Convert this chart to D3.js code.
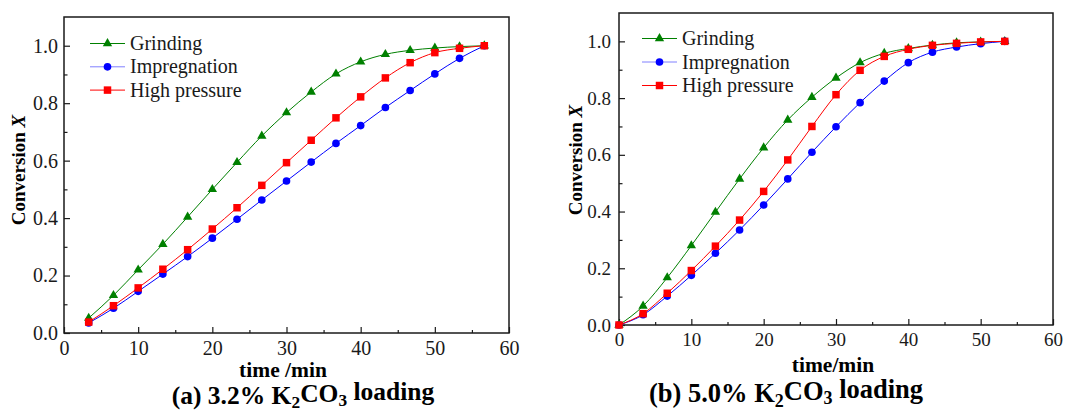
<!DOCTYPE html>
<html>
<head>
<meta charset="utf-8">
<script src="https://cdn.jsdelivr.net/npm/d3@7"></script>
<style>
  body { margin: 0; background: #fff; }
  svg { display: block; font-family: "Liberation Serif", "Times New Roman", serif; }
</style>
</head>
<body>
<svg id="chart" width="1067" height="412"></svg>
<script>
// series names + styles order
const seriesNames = ["Grinding", "Impregnation", "High pressure"];

// panel (a) 3.2% K2CO3
const timeA = [3.33, 6.67, 10, 13.33, 16.67, 20, 23.33, 26.67, 30, 33.33, 36.67, 40, 43.33, 46.67, 50, 53.33, 56.67];
const grindingA = [0.052, 0.131, 0.22, 0.309, 0.404, 0.5, 0.594, 0.686, 0.767, 0.839, 0.902, 0.944, 0.97, 0.984, 0.992, 0.997, 1.0];
const impregA = [0.035, 0.086, 0.145, 0.205, 0.266, 0.33, 0.396, 0.463, 0.529, 0.595, 0.66, 0.722, 0.785, 0.844, 0.902, 0.956, 1.0];
const highPA = [0.038, 0.095, 0.157, 0.222, 0.29, 0.362, 0.436, 0.514, 0.593, 0.671, 0.749, 0.822, 0.888, 0.941, 0.976, 0.991, 1.0];

// panel (b) 5.0% K2CO3
const timeB = [0, 3.33, 6.67, 10, 13.33, 16.67, 20, 23.33, 26.67, 30, 33.33, 36.67, 40, 43.33, 46.67, 50, 53.33];
const grindingB = [0, 0.067, 0.167, 0.28, 0.398, 0.515, 0.625, 0.723, 0.803, 0.871, 0.925, 0.958, 0.975, 0.987, 0.995, 0.998, 1.0];
const impregB = [0, 0.036, 0.102, 0.175, 0.253, 0.335, 0.423, 0.515, 0.609, 0.699, 0.784, 0.86, 0.925, 0.962, 0.98, 0.992, 1.0];
const highPB = [0, 0.04, 0.112, 0.192, 0.278, 0.37, 0.471, 0.582, 0.7, 0.812, 0.898, 0.947, 0.972, 0.986, 0.993, 0.998, 1.0];

const xTicks = [0, 10, 20, 30, 40, 50, 60];
const xMinor = [5, 15, 25, 35, 45, 55];
const yTicks = [0, 0.2, 0.4, 0.6, 0.8, 1.0];
const yMinor = [0.1, 0.3, 0.5, 0.7, 0.9];

const colors = ["#008000", "#0000ff", "#ff0000"];
const legendLineColors = ["#008000", "#8080ff", "#ff0000"];
const symbols = [d3.symbolTriangle, d3.symbolCircle, d3.symbolSquare];
const symbolSizes = [38, 46, 56];

const FONT = '"Liberation Serif", "Times New Roman", serif';
const svg = d3.select("#chart");

function drawPanel(cfg) {
    const x = d3.scaleLinear().domain([0, 60]).range([cfg.left, cfg.right]);
    const y = d3.scaleLinear().domain([0, 1.1]).range([cfg.bottom, cfg.top]);
    const g = svg.append("g");

    // frame
    g.append("rect")
        .attr("x", cfg.left).attr("y", cfg.top)
        .attr("width", cfg.right - cfg.left).attr("height", cfg.bottom - cfg.top)
        .attr("fill", "none").attr("stroke", "#1a1a1a").attr("stroke-width", 1.5);

    // inward ticks, major + minor
    const axes = [
        g.append("g").attr("transform", `translate(0,${cfg.bottom})`)
            .call(d3.axisBottom(x).tickValues(xTicks).tickSize(-6).tickPadding(8).tickFormat(d3.format("d"))),
        g.append("g").attr("transform", `translate(0,${cfg.bottom})`)
            .call(d3.axisBottom(x).tickValues(xMinor).tickSize(-3).tickFormat("")),
        g.append("g").attr("transform", `translate(${cfg.left},0)`)
            .call(d3.axisLeft(y).tickValues(yTicks).tickSize(-6).tickPadding(cfg.yPad).tickFormat(d3.format(".1f"))),
        g.append("g").attr("transform", `translate(${cfg.left},0)`)
            .call(d3.axisLeft(y).tickValues(yMinor).tickSize(-3.5).tickFormat(""))
    ];
    axes.forEach(a => a.attr("font-family", FONT).attr("font-size", cfg.tickFont));

    g.selectAll(".domain").remove();
    g.selectAll(".tick line").attr("stroke", "#1a1a1a").attr("stroke-width", 1.2);
    g.selectAll(".tick text").attr("fill", "#1a1a1a");

    // series
    const line = d3.line().x(d => x(d[0])).y(d => y(d[1])).curve(d3.curveMonotoneX);
    cfg.series.forEach((vals, i) => {
        const pts = cfg.time.map((t, j) => [t, vals[j]]);
        g.append("path").datum(pts)
            .attr("d", line).attr("fill", "none")
            .attr("stroke", colors[i]).attr("stroke-width", 1);
        g.selectAll(null).data(pts).enter().append("path")
            .attr("d", d3.symbol().type(symbols[i]).size(symbolSizes[i]))
            .attr("transform", d => `translate(${x(d[0])},${y(d[1])})`)
            .attr("fill", colors[i]);
    });

    // legend
    seriesNames.forEach((name, i) => {
        const ly = cfg.legY + i * cfg.legStep;
        g.append("line")
            .attr("x1", cfg.legX).attr("x2", cfg.legX + 35)
            .attr("y1", ly).attr("y2", ly)
            .attr("stroke", legendLineColors[i]).attr("stroke-width", 1);
        g.append("path")
            .attr("d", d3.symbol().type(symbols[i]).size(symbolSizes[i]))
            .attr("transform", `translate(${cfg.legX + 17.5},${ly})`)
            .attr("fill", colors[i]);
        g.append("text")
            .attr("x", cfg.legX + 40).attr("y", ly).attr("dy", "0.33em")
            .attr("font-family", FONT).attr("font-size", 20).attr("fill", "#1a1a1a")
            .text(name);
    });

    // axis titles
    g.append("text")
        .attr("x", cfg.xTitleX).attr("y", cfg.xTitleY)
        .attr("text-anchor", "middle")
        .attr("font-family", FONT).attr("font-size", 21.5).attr("font-weight", "bold")
        .text(cfg.xTitle);

    const yt = g.append("text")
        .attr("transform", `translate(${cfg.yTitleX},${cfg.yTitleY}) rotate(-90)`)
        .attr("text-anchor", "middle")
        .attr("font-family", FONT).attr("font-size", 19).attr("font-weight", "bold");
    yt.append("tspan").text("Conversion ");
    yt.append("tspan").attr("font-style", "italic").text("X");

    // caption with subscripts
    const cap = g.append("text")
        .attr("x", cfg.capX).attr("y", cfg.capY)
        .attr("text-anchor", "middle")
        .attr("font-family", FONT).attr("font-size", cfg.capFont).attr("font-weight", "bold");
    cap.append("tspan").text(cfg.capPre + " K");
    cap.append("tspan").attr("dy", "0.25em").attr("font-size", "0.68em").text("2");
    cap.append("tspan").attr("dy", "-0.25em").text("CO");
    cap.append("tspan").attr("dy", "0.25em").attr("font-size", "0.68em").text("3");
    cap.append("tspan").attr("dy", "-0.25em").text(" loading");
}

drawPanel({
    left: 64, right: 509, top: 17, bottom: 333,
    time: timeA, series: [grindingA, impregA, highPA],
    tickFont: 20, yPad: 6,
    legX: 90, legY: 43.5, legStep: 23.3,
    xTitle: "time /min", xTitleX: 283, xTitleY: 377,
    yTitleX: 25, yTitleY: 170,
    capPre: "(a) 3.2%", capX: 303, capY: 404, capFont: 25.5
});

drawPanel({
    left: 619, right: 1053, top: 13, bottom: 325,
    time: timeB, series: [grindingB, impregB, highPB],
    tickFont: 19, yPad: 8,
    legX: 642, legY: 38.5, legStep: 23.5,
    xTitle: "time/min", xTitleX: 833, xTitleY: 372,
    yTitleX: 582, yTitleY: 160,
    capPre: "(b) 5.0%", capX: 786, capY: 402, capFont: 26.5
});
</script>
</body>
</html>
